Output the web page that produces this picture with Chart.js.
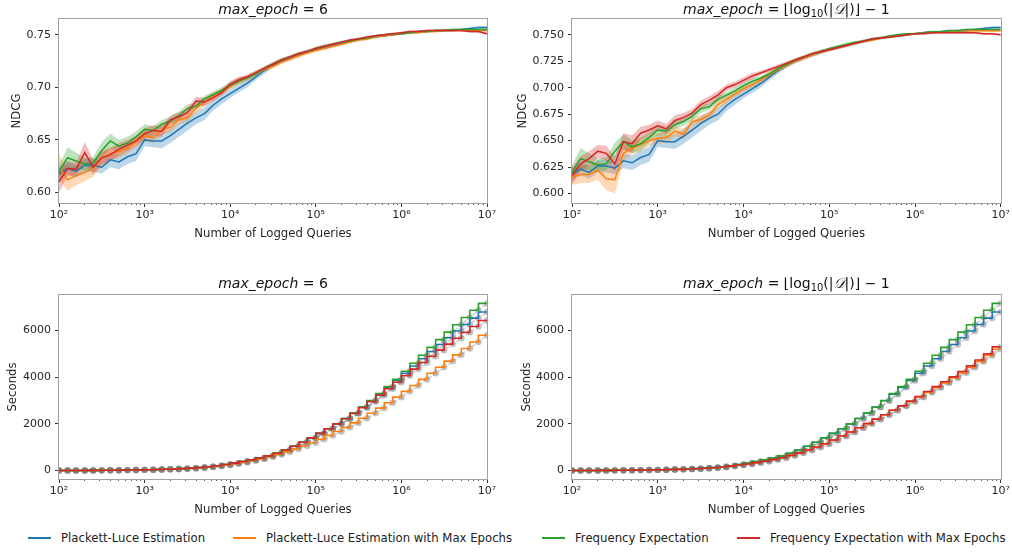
<!DOCTYPE html>
<html>
<head>
<meta charset="utf-8">
<script src="https://cdn.jsdelivr.net/npm/chart.js@4.4.1/dist/chart.umd.min.js"></script>
<style>
  body { margin: 0; background: #fff; width: 1012px; height: 554px; position: relative; overflow: hidden; font-family: 'DejaVu Sans', sans-serif; }
  canvas { position: absolute; }
  #legend { position: absolute; left: 0; top: 530px; width: 1012px; height: 16px; font-size: 11.7px; line-height: 16px; color: #222; white-space: nowrap; }
  #legend .item { position: absolute; top: 0; display: flex; align-items: center; }
  #legend .swatch { display: inline-block; width: 23px; height: 1.5px; margin-right: 10px; }
</style>
</head>
<body>
<canvas id="ndcgA" width="500" height="250" style="left:0;top:0"></canvas>
<canvas id="ndcgB" width="512" height="250" style="left:500px;top:0"></canvas>
<canvas id="timeA" width="500" height="266" style="left:0;top:260px"></canvas>
<canvas id="timeB" width="512" height="266" style="left:500px;top:260px"></canvas>
<div id="legend"></div>
<script>
// number of logged queries, 10 steps per decade
const queries = [100, 126, 158, 200, 251, 316, 398, 501, 631, 794,
  1000, 1259, 1585, 1995, 2512, 3162, 3981, 5012, 6310, 7943,
  10000, 12589, 15849, 19953, 25119, 31623, 39811, 50119, 63096, 79433,
  100000, 125893, 158489, 199526, 251189, 316228, 398107, 501187, 630957, 794328,
  1000000, 1258925, 1584893, 1995262, 2511886, 3162278, 3981072, 5011872, 6309573, 7943282, 10000000];

const seriesNames = ['Plackett-Luce Estimation', 'Plackett-Luce Estimation with Max Epochs',
  'Frequency Expectation', 'Frequency Expectation with Max Epochs'];
const seriesColors = ['#1f77b4', '#ff7f0e', '#2ca02c', '#d62728'];

const xMajorTicks = [1e2, 1e3, 1e4, 1e5, 1e6, 1e7];
const xTickLabels = ['10²', '10³', '10⁴', '10⁵', '10⁶', '10⁷'];
const yTicksNdcgA = [0.60, 0.65, 0.70, 0.75];
const yTicksNdcgB = [0.600, 0.625, 0.650, 0.675, 0.700, 0.725, 0.750];
const yTicksTime = [0, 2000, 4000, 6000];
const yRangeNdcgA = [0.590, 0.765];
const yRangeNdcgB = [0.591, 0.765];
const yRangeTime = [-359, 7509];

// NDCG means (methods without max epochs are the same in both panels)
const ndcgPL = [0.618, 0.623, 0.620, 0.626, 0.626, 0.624, 0.631, 0.629, 0.634, 0.637,
  0.650, 0.649, 0.649, 0.654, 0.660, 0.666, 0.671, 0.675, 0.683, 0.689,
  0.694, 0.699, 0.704, 0.710, 0.716, 0.721, 0.725, 0.728, 0.731, 0.734,
  0.736, 0.738, 0.740, 0.742, 0.744, 0.746, 0.747, 0.748, 0.749, 0.750,
  0.751, 0.752, 0.753, 0.753, 0.754, 0.754, 0.754, 0.755, 0.756, 0.757, 0.757];
const ndcgFE = [0.620, 0.633, 0.630, 0.627, 0.628, 0.640, 0.649, 0.644, 0.647, 0.653,
  0.660, 0.659, 0.665, 0.668, 0.673, 0.680, 0.682, 0.689, 0.693, 0.697,
  0.702, 0.706, 0.709, 0.713, 0.718, 0.722, 0.726, 0.729, 0.732, 0.734,
  0.737, 0.739, 0.741, 0.743, 0.744, 0.746, 0.747, 0.749, 0.750, 0.751,
  0.751, 0.752, 0.753, 0.753, 0.754, 0.754, 0.755, 0.755, 0.755, 0.755, 0.755];
const ndcgPLMaxA = [0.624, 0.612, 0.616, 0.619, 0.623, 0.632, 0.637, 0.639, 0.642, 0.648,
  0.654, 0.652, 0.660, 0.662, 0.669, 0.671, 0.680, 0.686, 0.691, 0.696,
  0.701, 0.706, 0.709, 0.713, 0.717, 0.720, 0.724, 0.727, 0.730, 0.733,
  0.735, 0.737, 0.739, 0.741, 0.743, 0.745, 0.746, 0.748, 0.749, 0.750,
  0.751, 0.752, 0.752, 0.753, 0.753, 0.754, 0.754, 0.754, 0.754, 0.754, 0.754];
const ndcgFEMaxA = [0.610, 0.623, 0.622, 0.638, 0.624, 0.633, 0.636, 0.641, 0.645, 0.649,
  0.656, 0.659, 0.658, 0.669, 0.672, 0.676, 0.687, 0.686, 0.690, 0.695,
  0.703, 0.707, 0.710, 0.714, 0.718, 0.722, 0.726, 0.729, 0.732, 0.734,
  0.737, 0.739, 0.741, 0.743, 0.745, 0.746, 0.748, 0.749, 0.750, 0.751,
  0.752, 0.753, 0.753, 0.754, 0.754, 0.754, 0.754, 0.754, 0.753, 0.753, 0.751];
const ndcgPLMaxB = [0.616, 0.618, 0.618, 0.622, 0.614, 0.613, 0.638, 0.643, 0.646, 0.650,
  0.652, 0.653, 0.659, 0.656, 0.668, 0.670, 0.674, 0.684, 0.689, 0.694,
  0.699, 0.703, 0.707, 0.712, 0.717, 0.721, 0.725, 0.728, 0.731, 0.734,
  0.736, 0.738, 0.740, 0.742, 0.744, 0.745, 0.747, 0.748, 0.749, 0.750,
  0.751, 0.752, 0.752, 0.753, 0.753, 0.754, 0.754, 0.754, 0.754, 0.754, 0.754];
const ndcgFEMaxB = [0.617, 0.628, 0.633, 0.640, 0.638, 0.628, 0.649, 0.647, 0.657, 0.660,
  0.664, 0.661, 0.669, 0.672, 0.676, 0.684, 0.688, 0.693, 0.700, 0.703,
  0.707, 0.711, 0.714, 0.717, 0.720, 0.723, 0.726, 0.729, 0.732, 0.734,
  0.736, 0.738, 0.740, 0.742, 0.744, 0.746, 0.747, 0.748, 0.749, 0.750,
  0.751, 0.751, 0.752, 0.752, 0.752, 0.752, 0.752, 0.752, 0.751, 0.751, 0.750];

// half widths of the shaded bands
const sdPL = [0.006, 0.006, 0.006, 0.006, 0.006, 0.006, 0.007, 0.007, 0.007, 0.007,
  0.006, 0.006, 0.007, 0.007, 0.007, 0.007, 0.006, 0.006, 0.005, 0.005,
  0.004, 0.004, 0.004, 0.003, 0.003, 0.002, 0.002, 0.002, 0.002, 0.002,
  0.0015, 0.0015, 0.0015, 0.0015, 0.0015, 0.0015, 0.0012, 0.0012, 0.0012, 0.0012,
  0.001, 0.001, 0.001, 0.001, 0.001, 0.001, 0.001, 0.001, 0.001, 0.001, 0.001];
const sdFE = [0.006, 0.010, 0.008, 0.006, 0.006, 0.008, 0.007, 0.006, 0.006, 0.005,
  0.005, 0.004, 0.004, 0.004, 0.004, 0.004, 0.003, 0.003, 0.003, 0.003,
  0.003, 0.003, 0.002, 0.002, 0.002, 0.002, 0.002, 0.0015, 0.0015, 0.0015,
  0.0015, 0.0015, 0.0015, 0.0012, 0.0012, 0.0012, 0.0012, 0.001, 0.001, 0.001,
  0.001, 0.001, 0.001, 0.001, 0.001, 0.001, 0.001, 0.001, 0.001, 0.001, 0.001];
const sdPLMaxA = [0.012, 0.010, 0.009, 0.008, 0.008, 0.007, 0.006, 0.006, 0.005, 0.005,
  0.005, 0.005, 0.005, 0.005, 0.004, 0.004, 0.004, 0.004, 0.004, 0.003,
  0.003, 0.003, 0.003, 0.003, 0.002, 0.002, 0.002, 0.002, 0.002, 0.002,
  0.0015, 0.0015, 0.0015, 0.0015, 0.0015, 0.0015, 0.0012, 0.0012, 0.0012, 0.0012,
  0.001, 0.001, 0.001, 0.001, 0.001, 0.001, 0.001, 0.001, 0.001, 0.001, 0.001];
const sdFEMaxA = [0.010, 0.007, 0.006, 0.010, 0.007, 0.006, 0.006, 0.006, 0.005, 0.005,
  0.005, 0.005, 0.005, 0.004, 0.004, 0.004, 0.004, 0.004, 0.003, 0.003,
  0.003, 0.003, 0.002, 0.002, 0.002, 0.002, 0.002, 0.0015, 0.0015, 0.0015,
  0.0015, 0.0015, 0.0015, 0.0012, 0.0012, 0.0012, 0.0012, 0.001, 0.001, 0.001,
  0.001, 0.001, 0.001, 0.001, 0.001, 0.001, 0.001, 0.001, 0.001, 0.001, 0.001];
const sdPLMaxB = [0.008, 0.008, 0.008, 0.009, 0.011, 0.013, 0.007, 0.006, 0.006, 0.005,
  0.005, 0.005, 0.005, 0.005, 0.004, 0.004, 0.004, 0.004, 0.004, 0.003,
  0.003, 0.003, 0.003, 0.003, 0.002, 0.002, 0.002, 0.002, 0.002, 0.002,
  0.0015, 0.0015, 0.0015, 0.0015, 0.0015, 0.0015, 0.0012, 0.0012, 0.0012, 0.0012,
  0.001, 0.001, 0.001, 0.001, 0.001, 0.001, 0.001, 0.001, 0.001, 0.001, 0.001];
const sdFEMaxB = [0.008, 0.007, 0.007, 0.006, 0.007, 0.007, 0.008, 0.008, 0.006, 0.005,
  0.005, 0.005, 0.005, 0.004, 0.004, 0.004, 0.004, 0.004, 0.003, 0.003,
  0.003, 0.003, 0.002, 0.002, 0.002, 0.002, 0.002, 0.0015, 0.0015, 0.0015,
  0.0015, 0.0015, 0.0015, 0.0012, 0.0012, 0.0012, 0.0012, 0.001, 0.001, 0.001,
  0.001, 0.001, 0.001, 0.001, 0.001, 0.001, 0.001, 0.001, 0.001, 0.001, 0.001];

// cumulative seconds
const timePL = [3, 4, 5, 7, 9, 11, 14, 17, 21, 26,
  32, 39, 47, 57, 70, 86, 106, 131, 162, 205,
  260, 320, 390, 460, 540, 630, 740, 880, 1040, 1210,
  1400, 1590, 1790, 2000, 2230, 2460, 2720, 2990, 3270, 3560,
  3850, 4160, 4470, 4780, 5090, 5390, 5680, 5970, 6250, 6520, 6780];
const timeFE = [3, 4, 5, 7, 9, 11, 14, 17, 21, 26,
  32, 39, 47, 57, 70, 86, 106, 131, 162, 205,
  260, 320, 390, 460, 540, 630, 740, 880, 1040, 1210,
  1400, 1590, 1790, 2000, 2230, 2460, 2720, 3000, 3290, 3590,
  3900, 4250, 4590, 4930, 5270, 5600, 5920, 6240, 6550, 6860, 7150];
const timePLMaxA = [3, 4, 5, 7, 9, 11, 14, 17, 21, 25,
  31, 37, 45, 54, 66, 81, 100, 124, 153, 193,
  240, 290, 350, 420, 500, 590, 690, 800, 920, 1050,
  1190, 1340, 1500, 1670, 1850, 2040, 2240, 2450, 2670, 2900,
  3140, 3390, 3640, 3900, 4160, 4420, 4680, 4950, 5220, 5500, 5790];
const timeFEMaxA = [3, 4, 5, 7, 9, 11, 14, 17, 21, 26,
  32, 39, 47, 57, 70, 86, 106, 131, 162, 205,
  260, 320, 390, 460, 540, 630, 740, 880, 1040, 1210,
  1400, 1590, 1790, 2000, 2220, 2440, 2690, 2950, 3220, 3500,
  3780, 4060, 4340, 4620, 4890, 5150, 5410, 5660, 5910, 6160, 6420];
const timePLMaxB = [3, 4, 5, 7, 9, 11, 14, 17, 21, 25,
  31, 37, 45, 54, 66, 81, 100, 124, 153, 193,
  240, 285, 340, 400, 470, 550, 650, 760, 880, 1010,
  1150, 1310, 1480, 1650, 1830, 2010, 2200, 2390, 2580, 2760,
  2950, 3140, 3340, 3540, 3750, 3960, 4180, 4410, 4660, 4920, 5190];
const timeFEMaxB = [3, 4, 5, 7, 9, 11, 14, 17, 21, 25,
  31, 37, 45, 54, 66, 81, 100, 124, 153, 193,
  240, 285, 340, 400, 470, 550, 650, 760, 880, 1010,
  1150, 1310, 1480, 1650, 1830, 2010, 2200, 2390, 2580, 2770,
  2970, 3170, 3380, 3590, 3800, 4010, 4240, 4480, 4730, 4990, 5290];

const titleSix = [{ t: 'max_epoch', italic: true }, { t: ' = 6' }];
const titleLog = [{ t: 'max_epoch', italic: true }, { t: ' = ⌊log' }, { t: '10', sub: true },
  { t: '(|' }, { t: '𝒟', italic: true }, { t: '|)⌋ − 1' }];

Chart.defaults.font.family = "'DejaVu Sans', sans-serif";
Chart.defaults.color = '#262626';

const rgba = (hex, a) => {
  const n = parseInt(hex.slice(1), 16);
  return `rgba(${n >> 16}, ${(n >> 8) & 255}, ${n & 255}, ${a})`;
};
const pts = arr => queries.map((q, i) => ({ x: q, y: arr[i] }));

// axes box on all four sides, like matplotlib spines
const frame = {
  id: 'frame',
  afterDatasetsDraw(chart) {
    const { ctx, chartArea: a } = chart;
    ctx.save();
    ctx.strokeStyle = '#a0a0a0';
    ctx.lineWidth = 1;
    ctx.strokeRect(Math.round(a.left) - 0.5, Math.round(a.top) - 0.5,
      Math.round(a.right - a.left) + 1, Math.round(a.bottom - a.top) + 1);
    ctx.restore();
  }
};

// title with mixed italic / upright / subscript pieces
const mathTitle = {
  id: 'mathTitle',
  afterDraw(chart, args, opts) {
    const parts = opts.parts;
    if (!parts) return;
    const { ctx, chartArea: a } = chart;
    const fontOf = p => (p.italic ? 'italic ' : '') + (p.sub ? '10px' : '14px') + " 'DejaVu Sans', sans-serif";
    ctx.save();
    ctx.fillStyle = '#111';
    ctx.textBaseline = 'alphabetic';
    const widths = parts.map(p => { ctx.font = fontOf(p); return ctx.measureText(p.t).width; });
    let x = (a.left + a.right) / 2 - widths.reduce((s, w) => s + w, 0) / 2;
    parts.forEach((p, i) => {
      ctx.font = fontOf(p);
      ctx.fillText(p.t, x, opts.baseline + (p.sub ? 3 : 0));
      x += widths[i];
    });
    ctx.restore();
  }
};

const xTicks = () => {
  const list = [];
  xMajorTicks.forEach((m, i) => {
    list.push({ value: m, major: true });
    if (i < xMajorTicks.length - 1) {
      for (let k = 2; k <= 9; k++) list.push({ value: m * k, major: false });
    }
  });
  return list;
};

function bandDatasets(means, sds, order) {
  const out = [];
  means.forEach((m, i) => {
    out.push({
      data: pts(m.map((v, j) => v + sds[i][j])),
      borderWidth: 0, pointRadius: 0, fill: false, order: 10 + order[i], clip: 0
    });
    out.push({
      data: pts(m.map((v, j) => v - sds[i][j])),
      borderWidth: 0, pointRadius: 0, fill: '-1',
      backgroundColor: rgba(seriesColors[i], 0.3), order: 10 + order[i], clip: 0
    });
  });
  means.forEach((m, i) => {
    out.push({
      data: pts(m), borderColor: seriesColors[i], borderWidth: 1.5,
      pointRadius: 0, fill: false, order: order[i], clip: 0
    });
  });
  return out;
}

function timeDatasets(series, order) {
  const out = [];
  series.forEach((s, i) => {
    out.push({
      data: pts(s), borderColor: 'rgba(128, 128, 128, 0.35)', borderWidth: 1.5,
      borderDash: [4, 2], pointRadius: 3.2, pointBorderWidth: 0,
      pointBackgroundColor: 'rgba(120, 120, 120, 0.45)', fill: false, order: 10 + order[i], clip: 0
    });
    out.push({
      data: pts(s), borderColor: seriesColors[i], borderWidth: 1.6, stepped: 'after',
      pointRadius: 0, fill: false, order: order[i], clip: 0
    });
  });
  return out;
}

function panel(id, cfg) {
  return new Chart(document.getElementById(id), {
    type: 'line',
    data: { datasets: cfg.datasets },
    options: {
      responsive: false,
      animation: false,
      events: [],
      layout: { padding: { left: 0, right: cfg.padRight, top: cfg.padTop, bottom: 0 } },
      plugins: {
        legend: { display: false },
        tooltip: { enabled: false },
        mathTitle: { parts: cfg.title, baseline: cfg.titleBaseline }
      },
      scales: {
        x: {
          type: 'logarithmic', min: 1e2, max: 1e7,
          afterFit: s => { s.height = 47; },
          afterBuildTicks: s => { s.ticks = xTicks(); },
          border: { display: false },
          grid: {
            drawOnChartArea: false, drawTicks: true, tickLength: 4,
            tickColor: '#333',
            tickWidth: c => (c.tick && c.tick.major ? 1 : 0.8),
            tickBorderDash: c => (c.tick && c.tick.major ? [] : [2, 20])
          },
          ticks: {
            autoSkip: false, maxRotation: 0, padding: 2,
            font: { size: 11 }, color: '#262626',
            callback: v => {
              const i = xMajorTicks.indexOf(v);
              return i >= 0 ? xTickLabels[i] : '';
            }
          },
          title: {
            display: true, text: 'Number of Logged Queries',
            font: { size: 11.7 }, color: '#262626', padding: { top: 0, bottom: 9 }
          }
        },
        y: {
          min: cfg.yRange[0], max: cfg.yRange[1],
          afterFit: s => { s.width = cfg.yWidth; },
          afterBuildTicks: s => { s.ticks = cfg.yTicks.map(v => ({ value: v })); },
          border: { display: false },
          grid: { drawOnChartArea: false, drawTicks: true, tickLength: 4, tickColor: '#333' },
          ticks: { padding: 4, font: { size: 11 }, color: '#262626', callback: cfg.yFormat },
          title: {
            display: true, text: cfg.yLabel,
            font: { size: 11.7 }, color: '#262626', padding: { top: cfg.yTitlePad, bottom: 0 }
          }
        }
      }
    },
    plugins: [frame, mathTitle]
  });
}

const drawOrder = [3, 2, 1, 0];

panel('ndcgA', {
  datasets: bandDatasets([ndcgPL, ndcgPLMaxA, ndcgFE, ndcgFEMaxA], [sdPL, sdPLMaxA, sdFE, sdFEMaxA], drawOrder),
  title: titleSix, titleBaseline: 14, padTop: 19, padRight: 13, yWidth: 59,
  yRange: yRangeNdcgA, yTicks: yTicksNdcgA, yFormat: v => v.toFixed(2),
  yLabel: 'NDCG', yTitlePad: 10
});
panel('ndcgB', {
  datasets: bandDatasets([ndcgPL, ndcgPLMaxB, ndcgFE, ndcgFEMaxB], [sdPL, sdPLMaxB, sdFE, sdFEMaxB], drawOrder),
  title: titleLog, titleBaseline: 14, padTop: 19, padRight: 11, yWidth: 72,
  yRange: yRangeNdcgB, yTicks: yTicksNdcgB, yFormat: v => v.toFixed(3),
  yLabel: 'NDCG', yTitlePad: 16
});
panel('timeA', {
  datasets: timeDatasets([timePL, timePLMaxA, timeFE, timeFEMaxA], drawOrder),
  title: titleSix, titleBaseline: 28, padTop: 35, padRight: 13, yWidth: 59,
  yRange: yRangeTime, yTicks: yTicksTime, yFormat: v => String(v),
  yLabel: 'Seconds', yTitlePad: 6
});
panel('timeB', {
  datasets: timeDatasets([timePL, timePLMaxB, timeFE, timeFEMaxB], drawOrder),
  title: titleLog, titleBaseline: 28, padTop: 35, padRight: 11, yWidth: 72,
  yRange: yRangeTime, yTicks: yTicksTime, yFormat: v => String(v),
  yLabel: 'Seconds', yTitlePad: 20
});

// legend entries placed like the matplotlib legend row
const legendLeft = [28, 233, 542, 737];
const legend = document.getElementById('legend');
seriesNames.forEach((name, i) => {
  const item = document.createElement('div');
  item.className = 'item';
  item.style.left = legendLeft[i] + 'px';
  const sw = document.createElement('span');
  sw.className = 'swatch';
  sw.style.background = seriesColors[i];
  const tx = document.createElement('span');
  tx.textContent = name;
  item.append(sw, tx);
  legend.append(item);
});
</script>
</body>
</html>
